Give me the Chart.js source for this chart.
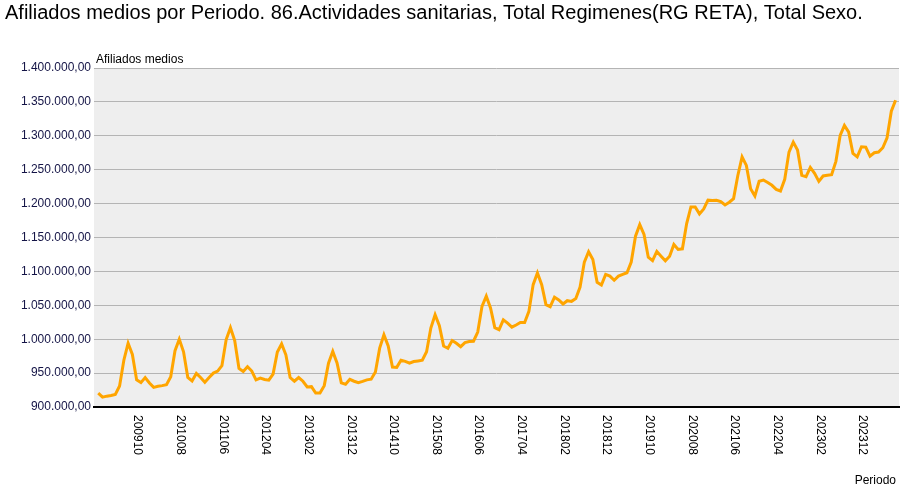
<!DOCTYPE html>
<html>
<head>
<meta charset="utf-8">
<script src="https://cdn.jsdelivr.net/npm/chart.js@4"></script>
<style>
  html, body { margin: 0; padding: 0; background: #ffffff; }
  #wrap { width: 900px; height: 500px; }
</style>
</head>
<body>
<div id="wrap"><canvas id="chart" width="900" height="500"></canvas></div>
<script>
// monthly series, starts 200901
var START_YEAR = 2009;

var afiliados = [
    920500, 914500, 916000, 917000, 918500, 931000, 969000, 994000, 977500, 940000, 936000, 943500,
    935500, 929000, 930500, 931500, 933000, 944500, 983000, 1000000, 981500, 943500, 938500, 949500,
    943500, 936500, 943500, 950000, 953000, 961000, 999500, 1017000, 998000, 957000, 952500, 959500,
    953000, 940000, 942500, 940500, 939500, 948500, 981000, 993000, 977000, 943500, 938000, 943500,
    938000, 929500, 930000, 920500, 920500, 931500, 964500, 982000, 965000, 935500, 933500, 940800,
    938000, 935800, 937700, 940000, 941000, 951500, 986800, 1006400, 990200, 958800, 958500, 969000,
    967300, 964600, 967000, 968000, 969000, 981600, 1016500, 1036000, 1020000, 990000, 986700, 998000,
    994000, 989000, 995000, 996500, 997000, 1010500, 1048500, 1063500, 1046000, 1017000, 1014000, 1028600,
    1023700, 1017800, 1021000, 1024700, 1024700, 1041000, 1080500, 1097800, 1080500, 1051000, 1048000, 1062000,
    1058000, 1052000, 1056800, 1055800, 1060000, 1077000, 1113700, 1129000, 1117600, 1084000, 1080000, 1095600,
    1093000, 1087000, 1093000, 1095600, 1098000, 1113700, 1152000, 1169000, 1154400, 1121000, 1116000, 1129400,
    1122500, 1115700, 1122500, 1139700, 1132400, 1133300, 1170600, 1195000, 1195000, 1184800, 1192000, 1205000,
    1204400, 1205000, 1203000, 1198000, 1202000, 1207400, 1241500, 1269000, 1256400, 1222000, 1211300, 1233000,
    1234800, 1231000, 1227000, 1221000, 1218600, 1235800, 1276000, 1290700, 1279000, 1241700, 1239700, 1253400,
    1244600, 1232800, 1240700, 1241700, 1242600, 1262300, 1300500, 1315200, 1305400, 1274000, 1269000, 1283800,
    1283300, 1270000, 1275000, 1276000, 1282400, 1297000, 1336300, 1352500
];

var tickLabels = ['200910', '201008', '201106', '201204', '201302', '201312', '201410', '201508', '201606',
    '201704', '201802', '201812', '201910', '202008', '202106', '202204', '202302', '202312'];

var periodos = [];
for (let i in afiliados) {
    let y = START_YEAR + Math.floor(i / 12);
    let m = (i % 12) + 1;
    periodos.push('' + y + (m < 10 ? '0' + m : m));
}

function fmtNum(v) {
    let s = Math.round(v).toString();
    s = s.replace(/\B(?=(\d{3})+(?!\d))/g, '.');
    return s + ',00';
}

const FONT = '"Liberation Sans", Arial, sans-serif';

const decor = {
    id: 'decor',
    beforeDraw(chart) {
        const ctx = chart.ctx;
        const a = chart.chartArea;
        ctx.save();
        ctx.fillStyle = '#eeeeee';
        ctx.fillRect(a.left, a.top, a.right - a.left, a.bottom - a.top);
        ctx.restore();
    },
    afterDraw(chart) {
        const ctx = chart.ctx;
        const xs = chart.scales.x;
        ctx.save();
        ctx.fillStyle = '#000000';
        ctx.textAlign = 'left';
        ctx.textBaseline = 'alphabetic';
        ctx.font = '20px ' + FONT;
        ctx.fillText('Afiliados medios por Periodo. 86.Actividades sanitarias, Total Regimenes(RG RETA), Total Sexo.', 5, 19);

        ctx.font = '12px ' + FONT;
        ctx.fillText('Afiliados medios', 96, 63);
        ctx.textAlign = 'right';
        ctx.fillText('Periodo', 896, 484);

        // x labels, rotated clockwise
        ctx.textAlign = 'left';
        ctx.textBaseline = 'middle';
        for (let i in tickLabels) {
            let idx = periodos.indexOf(tickLabels[i]);
            let px = xs.getPixelForValue(idx);
            ctx.save();
            ctx.translate(px + 1, 415);
            ctx.rotate(Math.PI / 2);
            ctx.fillText(tickLabels[i], 0, 0);
            ctx.restore();
        }
        ctx.restore();
    }
};

new Chart(document.getElementById('chart'), {
    type: 'line',
    data: {
        datasets: [{
            label: 'Afiliados medios',
            data: afiliados.map((v, i) => ({ x: i, y: v })),
            borderColor: '#ffa500',
            borderWidth: 3,
            pointRadius: 0,
            tension: 0,
            fill: false
        }]
    },
    options: {
        responsive: false,
        animation: false,
        layout: { padding: { top: 68, right: 1, left: 0, bottom: 0 } },
        plugins: {
            legend: { display: false },
            title: { display: false },
            tooltip: { enabled: false }
        },
        scales: {
            x: {
                type: 'linear',
                min: -1,
                max: 187.8,
                grid: { display: false, drawTicks: false },
                border: { display: true, color: '#000000', width: 2 },
                ticks: { display: false },
                afterFit: function(s) { s.height = 93; }
            },
            y: {
                min: 900000,
                max: 1400000,
                grid: { color: '#b4b4b4', lineWidth: 1, drawTicks: false },
                border: { display: false },
                ticks: {
                    stepSize: 50000,
                    padding: 3,
                    color: '#141446',
                    font: { family: FONT, size: 12 },
                    callback: function(v) { return fmtNum(v); }
                },
                afterFit: function(s) { s.width = 94; }
            }
        }
    },
    plugins: [decor]
});
</script>
</body>
</html>
